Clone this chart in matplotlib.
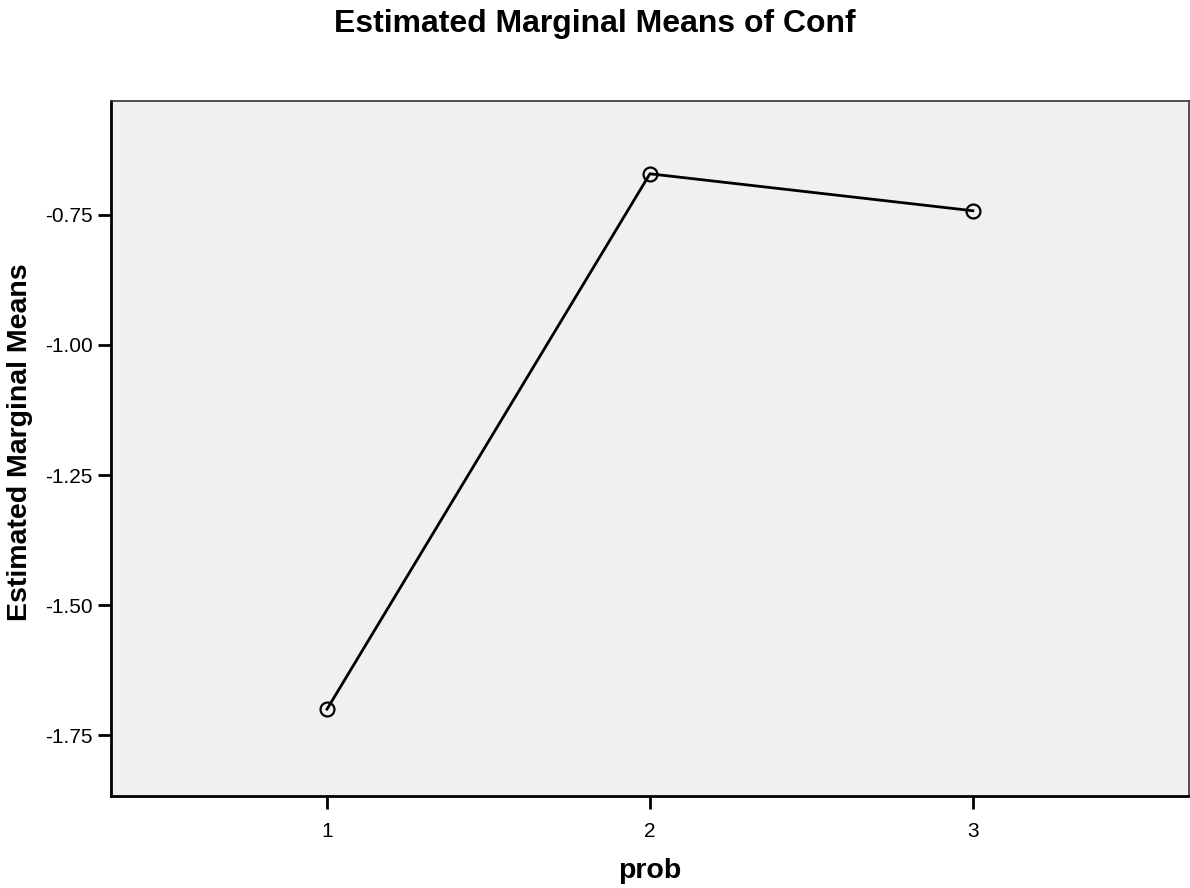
import matplotlib.pyplot as plt

plt.rcParams['font.family'] = ['Liberation Sans', 'DejaVu Sans']

prob = [1, 2, 3]
means = [-1.70, -0.671, -0.742]
yticks = [-1.75, -1.50, -1.25, -1.00, -0.75]
ytick_labels = ['-1.75', '-1.50', '-1.25', '-1.00', '-0.75']

fig = plt.figure(figsize=(11.9, 8.88), dpi=100)
ax = fig.add_axes([0.0933, 0.1036, 0.9057, 0.7827])
ax.set_facecolor('#f0f0f0')

ax.plot(prob, means, color='black', linewidth=2, marker='o', markersize=10,
        markerfacecolor='none', markeredgecolor='black', markeredgewidth=1.6)

ax.set_xlim(0.331, 3.669)
ax.set_ylim(-1.867, -0.531)
ax.set_xticks(prob)
ax.set_xticklabels([str(p) for p in prob])
ax.set_yticks(yticks)
ax.set_yticklabels(ytick_labels)
ax.tick_params(direction='out', length=9.5, width=2, labelsize=15)
ax.tick_params(axis='x', pad=9.5)
ax.tick_params(axis='y', pad=3.5)

for s in ['left', 'bottom']:
    ax.spines[s].set_linewidth(2)
    ax.spines[s].set_color('black')
for s in ['top', 'right']:
    ax.spines[s].set_linewidth(1.2)
    ax.spines[s].set_color('#333333')

ax.set_xlabel('prob', fontsize=20.5, fontweight='bold')
ax.xaxis.set_label_coords(0.5, -0.089)
ax.set_ylabel('Estimated Marginal Means', fontsize=20.5, fontweight='bold')
ax.yaxis.set_label_coords(-0.0724, 0.509)
fig.text(0.5, 1 - 32 / 888, 'Estimated Marginal Means of Conf', fontsize=23,
         fontweight='bold', ha='center', va='baseline')

fig.savefig('out.png', dpi=100)
